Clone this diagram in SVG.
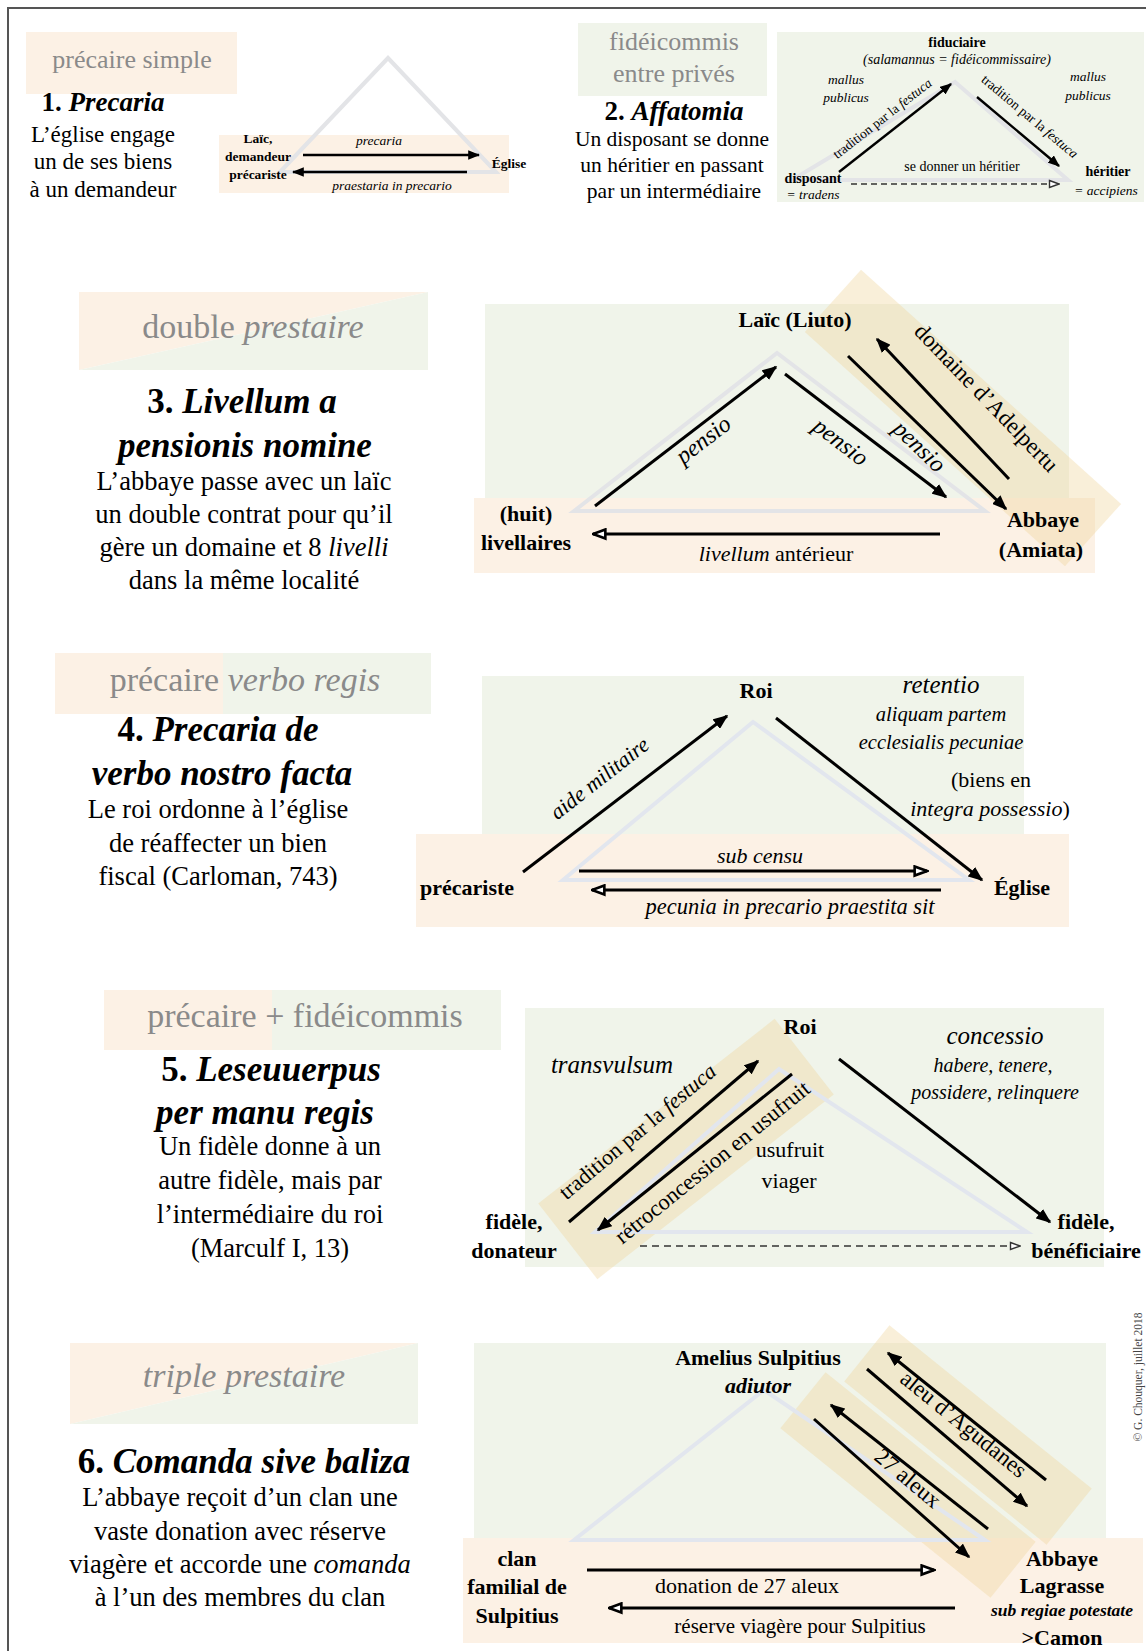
<svg xmlns="http://www.w3.org/2000/svg" width="1146" height="1651" viewBox="0 0 1146 1651">
<style>
text{font-family:'Liberation Serif','Times New Roman',serif;fill:#000}
.tt{fill:#8a8a8a}
.b{font-weight:bold}
.i{font-style:italic}
.m{text-anchor:middle}
.ln{stroke:#000;stroke-width:3;fill:none}
.ls{stroke:#000;stroke-width:2.4;fill:none}
.dash{stroke:#333;stroke-width:1.5;fill:none;stroke-dasharray:6 4}
.tri{fill:none;stroke:#e3e4e7;stroke-width:4}
.peach{fill:#fcf1e5}
.green{fill:#f0f4ea}
.band{fill:#f0d49c;opacity:.38}
</style>
<defs>
<marker id="ah" viewBox="0 0 10 8" refX="9" refY="4" markerWidth="15" markerHeight="12" markerUnits="userSpaceOnUse" orient="auto"><path d="M0,0 L10,4 L0,8 z" fill="#000"/></marker>
<marker id="as" viewBox="0 0 10 8" refX="9" refY="4" markerWidth="12" markerHeight="10" markerUnits="userSpaceOnUse" orient="auto"><path d="M0,0 L10,4 L0,8 z" fill="#000"/></marker>
<marker id="ho" viewBox="0 0 12 10" refX="11" refY="5" markerWidth="16" markerHeight="13" markerUnits="userSpaceOnUse" orient="auto"><path d="M1.5,1.5 L11,5 L1.5,8.5 z" fill="#fff" stroke="#000" stroke-width="2"/></marker>
<marker id="hd" viewBox="0 0 12 10" refX="11" refY="5" markerWidth="12" markerHeight="10" markerUnits="userSpaceOnUse" orient="auto"><path d="M1.5,1.5 L11,5 L1.5,8.5 z" fill="#fff" stroke="#333" stroke-width="1.4"/></marker>
</defs>
<rect width="1146" height="1651" fill="#fff"/>
<path d="M8,1651 V8 H1146" fill="none" stroke="#555" stroke-width="2"/>

<!-- backgrounds -->
<g id="backgrounds">
<rect class="peach" x="26" y="32" width="211" height="62"/>
<rect class="peach" x="219" y="135" width="290" height="58"/>
<rect class="green" x="578" y="23" width="189" height="73"/>
<rect class="green" x="777" y="32" width="367" height="170"/>
<polygon class="peach" points="79,292 428,292 79,370"/>
<polygon class="green" points="428,292 428,370 79,370"/>
<rect class="green" x="485" y="304" width="584" height="212"/>
<rect class="peach" x="474" y="498" width="621" height="75"/>
<rect class="band" x="788" y="376" width="350" height="84" transform="rotate(42 963 418)"/>
<rect class="peach" x="55" y="653" width="168" height="61"/>
<rect class="green" x="223" y="653" width="208" height="61"/>
<rect class="green" x="482" y="676" width="542" height="162"/>
<rect class="peach" x="416" y="834" width="653" height="93"/>
<rect class="peach" x="104" y="990" width="168" height="60"/>
<rect class="green" x="272" y="990" width="229" height="60"/>
<rect class="green" x="525" y="1008" width="579" height="259"/>
<rect class="band" x="536" y="1101" width="300" height="96" transform="rotate(-38 686 1149)"/>
<polygon class="peach" points="70,1343 418,1343 70,1424"/>
<polygon class="green" points="418,1343 418,1424 70,1424"/>
<rect class="green" x="474" y="1343" width="632" height="214"/>
<rect class="peach" x="463" y="1538" width="680" height="105"/>
<rect class="band" x="838" y="1399" width="260" height="72" transform="rotate(38.9 968 1435)"/>
<rect class="band" x="773" y="1449" width="270" height="72" transform="rotate(38.9 908 1485)"/>
</g>

<!-- faint triangles -->
<g id="triangles">
<polygon class="tri" points="280,172 388,58 496,172"/>
<polygon class="tri" points="792,180 955,82 1068,180"/>
<polygon class="tri" points="574,511 777,353 985,511"/>
<polygon class="tri" points="563,880 753,722 969,880" style="stroke:#e2e6ee"/>
<polygon class="tri" points="595,1232 779,1069 1027,1232" style="stroke:#e2e6ee"/>
<polygon class="tri" points="574,1540 764,1390 985,1540" style="stroke:#e2e6ee"/>
</g>

<!-- connectors -->
<g id="connectors">
<line class="ls" x1="303" y1="155" x2="479" y2="155" marker-end="url(#as)"/>
<line class="ls" x1="467" y1="172" x2="293" y2="172" marker-end="url(#as)"/>
<line class="ls" x1="839" y1="172" x2="951" y2="84" marker-end="url(#as)"/>
<line class="ls" x1="977" y1="97" x2="1059" y2="166" marker-end="url(#as)"/>
<line class="dash" x1="851" y1="184" x2="1059" y2="184" marker-end="url(#hd)"/>

<line class="ln" x1="595" y1="506" x2="776" y2="367" marker-end="url(#ah)"/>
<line class="ln" x1="785" y1="374" x2="946" y2="497" marker-end="url(#ah)"/>
<line class="ln" x1="1009" y1="479" x2="877" y2="339" marker-end="url(#ah)"/>
<line class="ln" x1="848" y1="356" x2="1006" y2="509" marker-end="url(#ah)"/>
<line class="ln" x1="940" y1="534" x2="593" y2="534" marker-end="url(#ho)"/>

<line class="ln" x1="523" y1="872" x2="727" y2="716" marker-end="url(#ah)"/>
<line class="ln" x1="776" y1="718" x2="982" y2="880" marker-end="url(#ah)"/>
<line class="ln" x1="579" y1="871" x2="927" y2="871" marker-end="url(#ho)"/>
<line class="ln" x1="941" y1="890" x2="592" y2="890" marker-end="url(#ho)"/>

<line class="ln" x1="569" y1="1222" x2="758" y2="1061" marker-end="url(#ah)"/>
<line class="ln" x1="792" y1="1074" x2="598" y2="1230" marker-end="url(#ah)"/>
<line class="ln" x1="839" y1="1059" x2="1050" y2="1222" marker-end="url(#ah)"/>
<line class="dash" x1="640" y1="1246" x2="1020" y2="1246" marker-end="url(#hd)" style="stroke-dasharray:7 5"/>

<line class="ln" x1="1046" y1="1480" x2="888" y2="1353" marker-end="url(#ah)"/>
<line class="ln" x1="867" y1="1369" x2="1027" y2="1506" marker-end="url(#ah)"/>
<line class="ln" x1="988" y1="1529" x2="831" y2="1405" marker-end="url(#ah)"/>
<line class="ln" x1="814" y1="1419" x2="969" y2="1557" marker-end="url(#ah)"/>
<line class="ln" x1="587" y1="1570" x2="934" y2="1570" marker-end="url(#ho)"/>
<line class="ln" x1="955" y1="1608" x2="609" y2="1608" marker-end="url(#ho)"/>
</g>

<!-- Section 1 -->
<g id="s1-title"><text class="tt m" x="132" y="68" font-size="26">précaire simple</text></g>
<g id="s1-heading"><text class="m b" x="103" y="111" font-size="27">1. <tspan class="i">Precaria</tspan></text>
<text class="m" font-size="23" x="103"><tspan x="103" y="142">L’église engage</tspan><tspan x="103" y="169">un de ses biens</tspan><tspan x="103" y="197">à un demandeur</tspan></text></g>
<g id="s1-laic"><text class="m b" font-size="13.5"><tspan x="258" y="143">Laïc,</tspan><tspan x="258" y="161">demandeur</tspan><tspan x="258" y="179">précariste</tspan></text></g>
<g id="s1-eglise"><text class="m b" x="509" y="168" font-size="13.5">Église</text></g>
<g id="s1-precaria"><text class="m i" x="379" y="145" font-size="13.5">precaria</text></g>
<g id="s1-praestaria"><text class="m i" x="392" y="190" font-size="13.5">praestaria in precario</text></g>

<!-- Section 2 -->
<g id="s2-title"><text class="tt m" font-size="26"><tspan x="674" y="50">fidéicommis</tspan><tspan x="674" y="82">entre privés</tspan></text></g>
<g id="s2-heading"><text class="m b" x="674" y="120" font-size="27">2. <tspan class="i">Affatomia</tspan></text>
<text class="m" font-size="21.5"><tspan x="672" y="146">Un disposant se donne</tspan><tspan x="672" y="172">un héritier en passant</tspan><tspan x="674" y="198">par un intermédiaire</tspan></text></g>
<g id="s2-fiduciaire"><text class="m b" x="957" y="47" font-size="14">fiduciaire</text>
<text class="m i" x="957" y="64" font-size="14">(salamannus = fidéicommissaire)</text></g>
<g id="s2-mallus1"><text class="m i" font-size="13.5"><tspan x="846" y="84">mallus</tspan><tspan x="846" y="102">publicus</tspan></text></g>
<g id="s2-mallus2"><text class="m i" font-size="13.5"><tspan x="1088" y="81">mallus</tspan><tspan x="1088" y="100">publicus</tspan></text></g>
<g id="s2-trad1"><text class="m" font-size="13.5" transform="translate(885,122) rotate(-38)">tradition par la <tspan class="i">festuca</tspan></text></g>
<g id="s2-trad2"><text class="m" font-size="13.5" transform="translate(1027,120) rotate(40)">tradition par la <tspan class="i">festuca</tspan></text></g>
<g id="s2-heritier-label"><text class="m" x="962" y="171" font-size="14">se donner un héritier</text></g>
<g id="s2-disposant"><text class="m b" x="813" y="183" font-size="14">disposant</text><text class="m i" x="813" y="199" font-size="13.5">= tradens</text></g>
<g id="s2-heritier"><text class="m b" x="1108" y="176" font-size="14">héritier</text><text class="m i" x="1106" y="195" font-size="13.5">= accipiens</text></g>

<!-- Section 3 -->
<g id="s3-title"><text class="tt m" x="253" y="338" font-size="34">double <tspan class="i">prestaire</tspan></text></g>
<g id="s3-heading"><text class="m b" font-size="35"><tspan x="242" y="413">3. <tspan class="i">Livellum a</tspan></tspan><tspan class="i" x="245" y="457">pensionis nomine</tspan></text>
<text class="m" font-size="26.5"><tspan x="244" y="490">L’abbaye passe avec un laïc</tspan><tspan x="244" y="523">un double contrat pour qu’il</tspan><tspan x="244" y="556">gère un domaine et 8 <tspan class="i">livelli</tspan></tspan><tspan x="244" y="589">dans la même localité</tspan></text></g>
<g id="s3-laic"><text class="m b" x="795" y="327" font-size="22">Laïc (Liuto)</text></g>
<g id="s3-livellaires"><text class="m b" font-size="22"><tspan x="526" y="521">(huit)</tspan><tspan x="526" y="550">livellaires</tspan></text></g>
<g id="s3-abbaye"><text class="m b" font-size="22"><tspan x="1043" y="527">Abbaye</tspan><tspan x="1041" y="557">(Amiata)</tspan></text></g>
<g id="s3-pensio1"><text class="m i" font-size="24" transform="translate(708,446) rotate(-37.5)">pensio</text></g>
<g id="s3-pensio2"><text class="m i" font-size="24" transform="translate(836,448) rotate(37.5)">pensio</text></g>
<g id="s3-pensio3"><text class="m i" font-size="24" transform="translate(914,452) rotate(44)">pensio</text></g>
<g id="s3-domaine"><text class="m" font-size="23" transform="translate(981,403) rotate(46)">domaine d’Adelpertu</text></g>
<g id="s3-livellum"><text class="m" x="776" y="561" font-size="22"><tspan class="i">livellum</tspan> antérieur</text></g>

<!-- Section 4 -->
<g id="s4-title"><text class="tt m" x="245" y="691" font-size="34">précaire <tspan class="i">verbo regis</tspan></text></g>
<g id="s4-heading"><text class="m b" font-size="35"><tspan x="218" y="741">4. <tspan class="i">Precaria de</tspan></tspan><tspan class="i" x="222" y="785">verbo nostro facta</tspan></text>
<text class="m" font-size="26.5"><tspan x="218" y="818">Le roi ordonne à l’église</tspan><tspan x="218" y="852">de réaffecter un bien</tspan><tspan x="218" y="885">fiscal (Carloman, 743)</tspan></text></g>
<g id="s4-roi"><text class="m b" x="756" y="698" font-size="22">Roi</text></g>
<g id="s4-retentio"><text class="m i" x="941" y="693" font-size="25">retentio</text>
<text class="m i" font-size="20.5"><tspan x="941" y="721">aliquam partem</tspan><tspan x="941" y="749">ecclesialis pecuniae</tspan></text>
<text class="m" font-size="22"><tspan x="991" y="787">(biens en</tspan><tspan x="990" y="816"><tspan class="i">integra possessio</tspan>)</tspan></text></g>
<g id="s4-aide"><text class="m i" font-size="22" transform="translate(604,784) rotate(-38)">aide  militaire</text></g>
<g id="s4-precariste"><text class="m b" x="467" y="895" font-size="22">précariste</text></g>
<g id="s4-eglise"><text class="m b" x="1022" y="895" font-size="22">Église</text></g>
<g id="s4-subcensu"><text class="m i" x="760" y="863" font-size="22">sub censu</text></g>
<g id="s4-pecunia"><text class="m i" x="790" y="914" font-size="22.5">pecunia in precario praestita sit</text></g>

<!-- Section 5 -->
<g id="s5-title"><text class="tt m" x="305" y="1027" font-size="34">précaire + fidéicommis</text></g>
<g id="s5-heading"><text class="m b" font-size="35"><tspan x="271" y="1081">5. <tspan class="i">Leseuuerpus</tspan></tspan><tspan class="i" x="265" y="1124">per manu regis</tspan></text>
<text class="m" font-size="26.5"><tspan x="270" y="1155">Un fidèle donne à un</tspan><tspan x="270" y="1189">autre fidèle, mais par</tspan><tspan x="270" y="1223">l’intermédiaire du roi</tspan><tspan x="270" y="1257">(Marculf I, 13)</tspan></text></g>
<g id="s5-roi"><text class="m b" x="800" y="1034" font-size="22">Roi</text></g>
<g id="s5-transvulsum"><text class="m i" x="612" y="1073" font-size="25">transvulsum</text></g>
<g id="s5-concessio"><text class="m i" x="995" y="1044" font-size="25">concessio</text>
<text class="m i" font-size="20"><tspan x="993" y="1072">habere, tenere,</tspan><tspan x="995" y="1099">possidere, relinquere</tspan></text></g>
<g id="s5-tradition"><text class="m" font-size="22" transform="translate(642,1137) rotate(-40)">tradition par la <tspan class="i">festuca</tspan></text></g>
<g id="s5-retro"><text class="m" font-size="22.5" transform="translate(717,1168) rotate(-39)">rétroconcession en usufruit</text></g>
<g id="s5-usufruit"><text class="m" font-size="22"><tspan x="790" y="1157">usufruit</tspan><tspan x="789" y="1188">viager</tspan></text></g>
<g id="s5-donateur"><text class="m b" font-size="22"><tspan x="514" y="1229">fidèle,</tspan><tspan x="514" y="1258">donateur</tspan></text></g>
<g id="s5-beneficiaire"><text class="m b" font-size="22"><tspan x="1086" y="1229">fidèle,</tspan><tspan x="1086" y="1258">bénéficiaire</tspan></text></g>

<!-- Section 6 -->
<g id="s6-title"><text class="tt m i" x="244" y="1387" font-size="34">triple prestaire</text></g>
<g id="s6-heading"><text class="m b" x="244" y="1473" font-size="35">6. <tspan class="i">Comanda sive baliza</tspan></text>
<text class="m" font-size="26.5"><tspan x="240" y="1506">L’abbaye reçoit d’un clan une</tspan><tspan x="240" y="1540">vaste donation avec réserve</tspan><tspan x="240" y="1573">viagère et accorde une <tspan class="i">comanda</tspan></tspan><tspan x="240" y="1606">à l’un des membres du clan</tspan></text></g>
<g id="s6-amelius"><text class="m b" x="758" y="1365" font-size="22">Amelius Sulpitius</text><text class="m b i" x="758" y="1393" font-size="22">adiutor</text></g>
<g id="s6-aleu"><text class="m" font-size="23" transform="translate(959,1430) rotate(39)">aleu d’Agudanes</text></g>
<g id="s6-27"><text class="m" font-size="23" transform="translate(903,1484) rotate(40)">27 aleux</text></g>
<g id="s6-clan"><text class="m b" font-size="22"><tspan x="517" y="1566">clan</tspan><tspan x="517" y="1594">familial de</tspan><tspan x="517" y="1623">Sulpitius</tspan></text></g>
<g id="s6-abbaye"><text class="m b" font-size="22"><tspan x="1062" y="1566">Abbaye</tspan><tspan x="1062" y="1593">Lagrasse</tspan></text>
<text class="m b i" x="1062" y="1616" font-size="17.5">sub regiae potestate</text>
<text class="m b" x="1062" y="1645" font-size="22">&gt;Camon</text></g>
<g id="s6-donation"><text class="m" x="747" y="1593" font-size="22">donation de 27 aleux</text></g>
<g id="s6-reserve"><text class="m" x="800" y="1633" font-size="21">réserve viagère pour Sulpitius</text></g>

<g id="copyright"><text class="m" font-size="11.5" transform="translate(1142,1377) rotate(-90)" style="fill:#444">© G. Chouquer, juillet 2018</text></g>
</svg>
